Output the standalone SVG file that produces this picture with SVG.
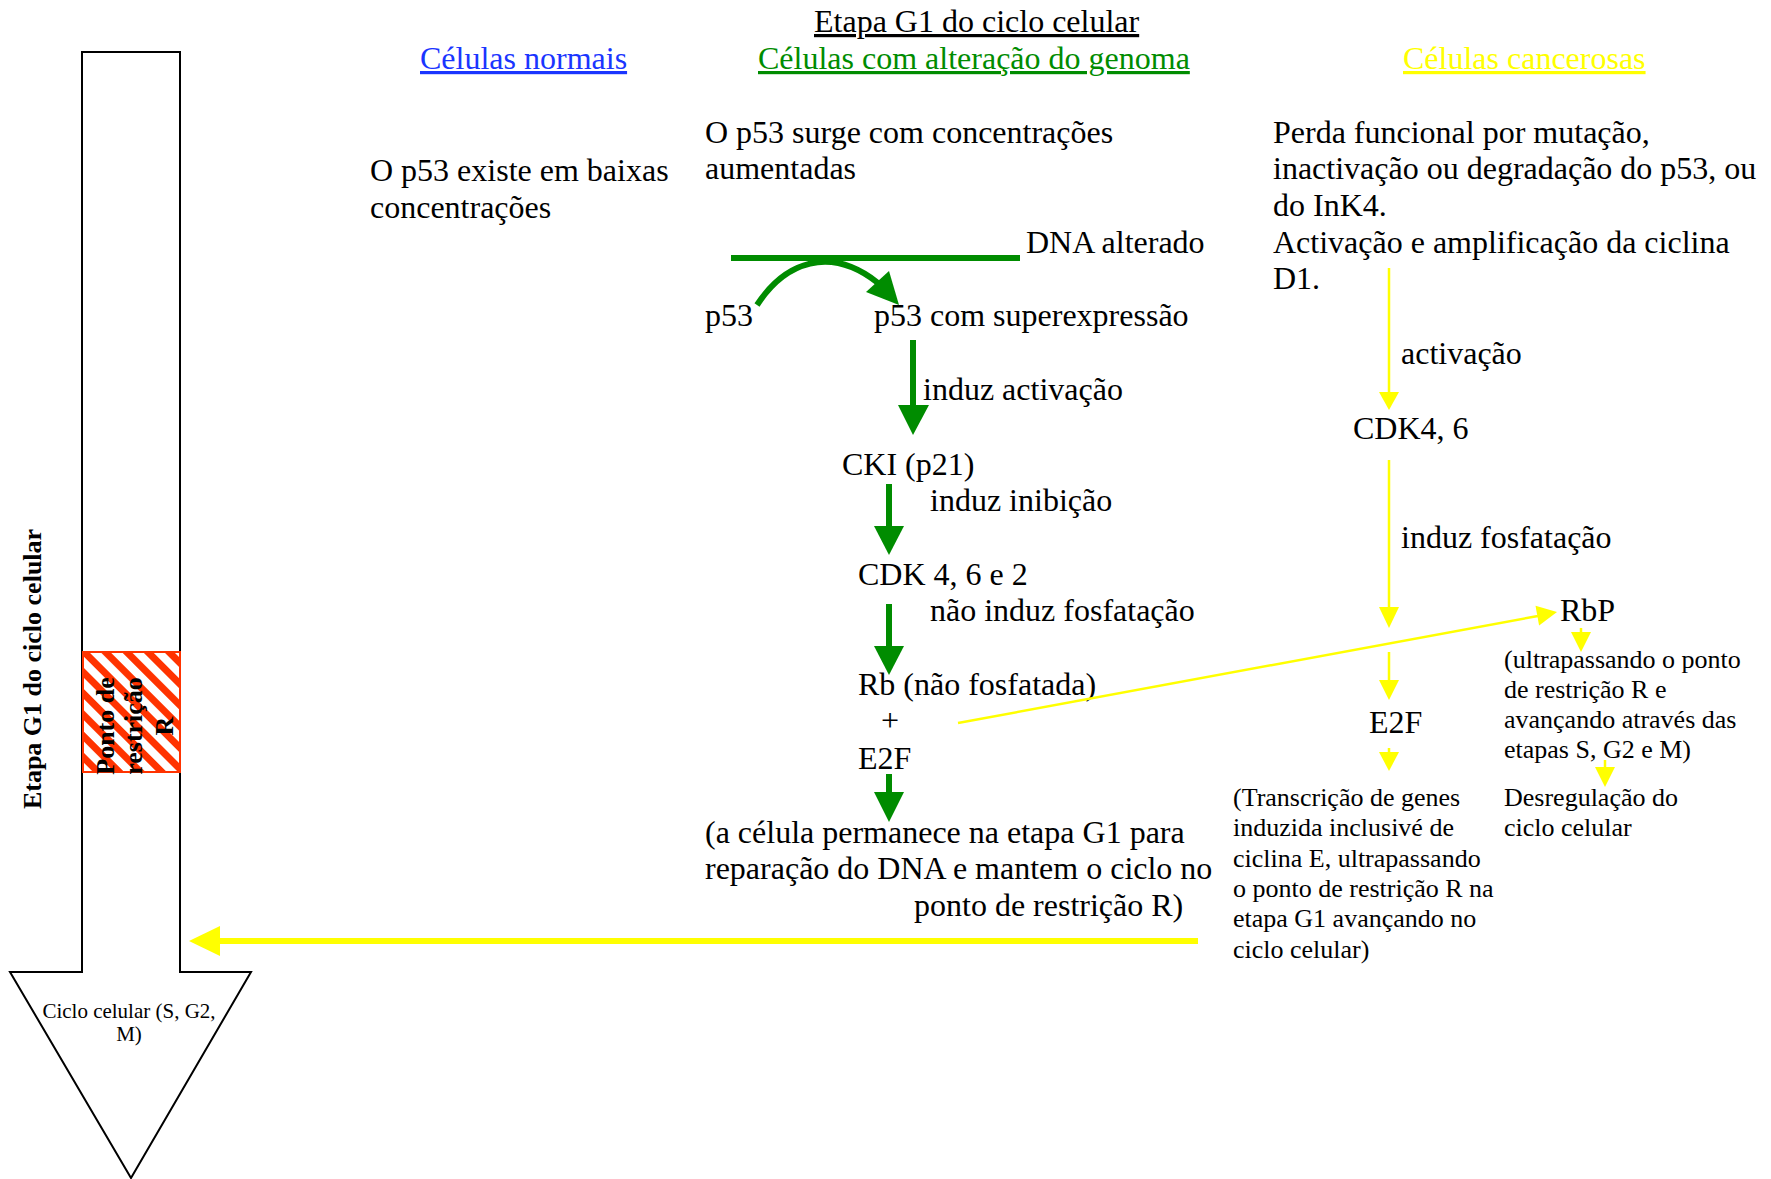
<svg xmlns="http://www.w3.org/2000/svg" width="1771" height="1179" viewBox="0 0 1771 1179">
  <style>
    text { font-family: "Liberation Serif", "Times New Roman", serif; fill: #000; }
    .t32 { font-size: 32px; }
    .t26 { font-size: 26px; }
    .t21 { font-size: 21px; }
    .bold { font-weight: bold; }
    .ul { text-decoration: underline; }
    .green-line { stroke: #008C00; stroke-width: 6; fill: none; }
    .green-head { fill: #008C00; }
    .yel-line { stroke: #FFFF00; stroke-width: 2.5; fill: none; }
    .yel-thick { stroke: #FFFF00; stroke-width: 6; fill: none; }
    .yel-head { fill: #FFFF00; }
  </style>
  <defs>
    <pattern id="hatch" patternUnits="userSpaceOnUse" width="15" height="15" patternTransform="rotate(-45)">
      <rect width="15" height="15" fill="#fff"/>
      <rect width="7" height="15" fill="#FF3300"/>
    </pattern>
  </defs>
  <rect width="1771" height="1179" fill="#fff"/>

  <!-- G1 phase block arrow -->
  <g id="g1-arrow">
    <polygon points="82,52 180,52 180,972 251,972 131,1178 10,972 82,972" fill="#fff" stroke="#000" stroke-width="2"/>
    <text class="t21" x="129" y="1018" text-anchor="middle">Ciclo celular (S, G2,</text>
    <text class="t21" x="129" y="1041" text-anchor="middle">M)</text>
  </g>

  <g id="g1-label">
    <text class="t26 bold" transform="translate(41,669) rotate(-90)" text-anchor="middle">Etapa G1 do ciclo celular</text>
  </g>

  <!-- restriction point R -->
  <g id="restriction-point">
    <rect x="83" y="652" width="97" height="120" fill="url(#hatch)" stroke="#FF3300" stroke-width="2"/>
    <text class="t26 bold" transform="translate(114,726) rotate(-90)" text-anchor="middle">Ponto de</text>
    <text class="t26 bold" transform="translate(142,726) rotate(-90)" text-anchor="middle">restrição</text>
    <text class="t26 bold" transform="translate(173,726) rotate(-90)" text-anchor="middle">R</text>
  </g>

  <!-- column headings -->
  <g id="title">
    <text class="t32 ul" x="814" y="32">Etapa G1 do ciclo celular</text>
  </g>
  <g id="head-normal">
    <text class="t32 ul" x="420" y="69" style="fill:#1A35FF">Células normais</text>
  </g>
  <g id="head-altered">
    <text class="t32 ul" x="758" y="69" style="fill:#008C00">Células com alteração do genoma</text>
  </g>
  <g id="head-cancer">
    <text class="t32 ul" x="1403" y="69" style="fill:#FFFF00">Células cancerosas</text>
  </g>

  <!-- normal cells -->
  <g id="normal-text">
    <text class="t32" x="370" y="181">O p53 existe em baixas</text>
    <text class="t32" x="370" y="218">concentrações</text>
  </g>

  <!-- altered genome cells -->
  <g id="altered-text">
    <text class="t32" x="705" y="143">O p53 surge com concentrações</text>
    <text class="t32" x="705" y="179">aumentadas</text>
  </g>
  <g id="dna">
    <line x1="731" y1="258" x2="1020" y2="258" stroke="#008C00" stroke-width="6"/>
    <text class="t32" x="1026" y="253">DNA alterado</text>
  </g>
  <g id="p53"><text class="t32" x="705" y="326">p53</text></g>
  <g id="p53-over"><text class="t32" x="874" y="326">p53 com superexpressão</text></g>
  <g id="cki"><text class="t32" x="842" y="475">CKI (p21)</text></g>
  <g id="cdk-462"><text class="t32" x="858" y="585">CDK 4, 6 e 2</text></g>
  <g id="rb-e2f">
    <text class="t32" x="858" y="695">Rb (não fosfatada)</text>
    <text class="t32" x="890" y="731" text-anchor="middle">+</text>
    <text class="t32" x="858" y="769">E2F</text>
  </g>
  <g id="arrest">
    <text class="t32" x="705" y="843">(a célula permanece na etapa G1 para</text>
    <text class="t32" x="705" y="879">reparação do DNA e mantem o ciclo no</text>
    <text class="t32" x="914" y="916">ponto de restrição R)</text>
  </g>

  <!-- cancer cells -->
  <g id="cancer-text">
    <text class="t32" x="1273" y="143">Perda funcional por mutação,</text>
    <text class="t32" x="1273" y="179">inactivação ou degradação do p53, ou</text>
    <text class="t32" x="1273" y="216">do InK4.</text>
    <text class="t32" x="1273" y="253">Activação e amplificação da ciclina</text>
    <text class="t32" x="1273" y="289">D1.</text>
  </g>
  <g id="cdk46"><text class="t32" x="1353" y="439">CDK4, 6</text></g>
  <g id="rbp"><text class="t32" x="1560" y="621">RbP</text></g>
  <g id="e2f"><text class="t32" x="1369" y="733">E2F</text></g>
  <g id="rbp-effect">
    <text class="t26" x="1504" y="668">(ultrapassando o ponto</text>
    <text class="t26" x="1504" y="698">de restrição R e</text>
    <text class="t26" x="1504" y="728">avançando através das</text>
    <text class="t26" x="1504" y="758">etapas S, G2 e M)</text>
  </g>
  <g id="deregulation">
    <text class="t26" x="1504" y="806">Desregulação do</text>
    <text class="t26" x="1504" y="836">ciclo celular</text>
  </g>
  <g id="e2f-effect">
    <text class="t26" x="1233" y="806">(Transcrição de genes</text>
    <text class="t26" x="1233" y="836">induzida inclusivé de</text>
    <text class="t26" x="1233" y="867">ciclina E, ultrapassando</text>
    <text class="t26" x="1233" y="897">o ponto de restrição R na</text>
    <text class="t26" x="1233" y="927">etapa G1 avançando no</text>
    <text class="t26" x="1233" y="958">ciclo celular)</text>
  </g>

  <!-- connectors -->
  <g id="connectors">
    <!-- green pathway -->
    <path class="green-line" d="M757,305 C785,262 830,245 878,283"/>
    <polygon class="green-head" points="899,305 866,292 889,271"/>

    <line class="green-line" x1="913" y1="340" x2="913" y2="406"/>
    <polygon class="green-head" points="898,405 929,405 913,435"/>
    <text class="t32" x="923" y="400">induz activação</text>

    <line class="green-line" x1="889" y1="484" x2="889" y2="527"/>
    <polygon class="green-head" points="874,526 904,526 889,555"/>
    <text class="t32" x="930" y="511">induz inibição</text>

    <line class="green-line" x1="889" y1="604" x2="889" y2="647"/>
    <polygon class="green-head" points="874,646 904,646 889,675"/>
    <text class="t32" x="930" y="621">não induz fosfatação</text>

    <line class="green-line" x1="889" y1="774" x2="889" y2="793"/>
    <polygon class="green-head" points="874,792 904,792 889,822"/>

    <!-- yellow pathway -->
    <line class="yel-line" x1="1389" y1="268" x2="1389" y2="393"/>
    <polygon class="yel-head" points="1379,392 1399,392 1389,410"/>
    <text class="t32" x="1401" y="364">activação</text>

    <line class="yel-line" x1="1389" y1="460" x2="1389" y2="608"/>
    <polygon class="yel-head" points="1379,607 1399,607 1389,628"/>
    <text class="t32" x="1401" y="548">induz fosfatação</text>

    <line class="yel-line" x1="1389" y1="652" x2="1389" y2="681"/>
    <polygon class="yel-head" points="1379,680 1399,680 1389,700"/>

    <line class="yel-line" x1="1389" y1="748" x2="1389" y2="753"/>
    <polygon class="yel-head" points="1379,752 1399,752 1389,771"/>

    <line class="yel-line" x1="958" y1="723" x2="1538" y2="616"/>
    <polygon class="yel-head" points="1557,612 1535.5,605.8 1539.1,625.4"/>

    <line class="yel-line" x1="1581" y1="628" x2="1581" y2="633"/>
    <polygon class="yel-head" points="1571,632 1591,632 1581,652"/>

    <line class="yel-line" x1="1605" y1="760" x2="1605" y2="768"/>
    <polygon class="yel-head" points="1595,767 1615,767 1605,787"/>

    <line class="yel-thick" x1="1198" y1="941" x2="218" y2="941"/>
    <polygon class="yel-head" points="220,926 220,956 189,941"/>
  </g>
</svg>
